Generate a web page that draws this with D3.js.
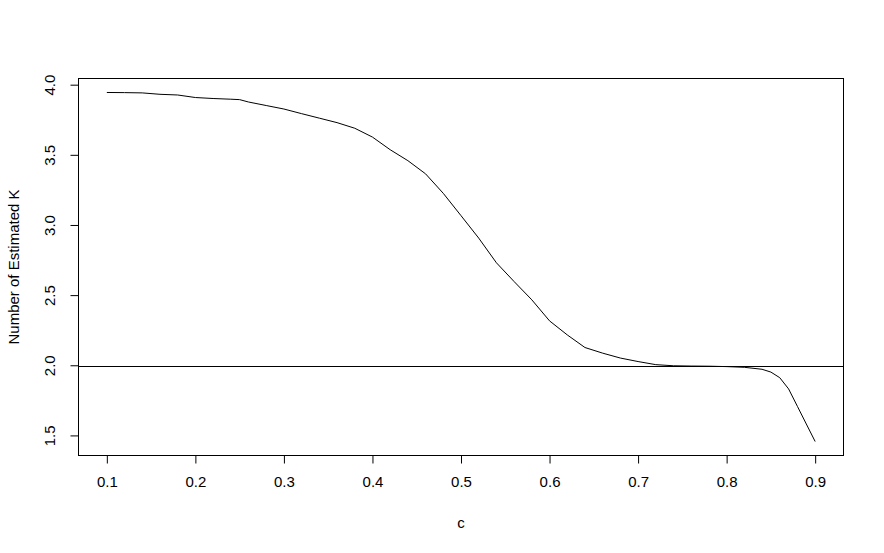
<!DOCTYPE html>
<html><head><meta charset="utf-8">
<script src="https://cdn.jsdelivr.net/npm/d3@7"></script>
<style>body{margin:0;background:#fff}svg{display:block}text{font-family:"Liberation Sans",Arial,sans-serif;fill:#000}</style>
</head><body>
<script>
const cValues = [0.10,0.12,0.14,0.16,0.18,0.20,0.22,0.24,0.25,0.26,0.28,0.30,0.32,0.34,0.36,0.38,0.40,0.42,0.44,0.46,0.48,0.50,0.52,0.54,0.56,0.58,0.60,0.62,0.64,0.66,0.68,0.70,0.72,0.74,0.76,0.78,0.80,0.82,0.84,0.85,0.86,0.87,0.88,0.89,0.90];
const kValues = [3.948,3.947,3.945,3.935,3.930,3.912,3.905,3.900,3.897,3.880,3.855,3.830,3.797,3.765,3.733,3.693,3.630,3.540,3.462,3.368,3.229,3.070,2.910,2.734,2.600,2.470,2.320,2.220,2.130,2.090,2.055,2.030,2.008,2.000,1.998,1.997,1.994,1.989,1.975,1.955,1.915,1.835,1.710,1.585,1.460];
const xTicks = [0.1,0.2,0.3,0.4,0.5,0.6,0.7,0.8,0.9];
const yTicks = [1.5,2.0,2.5,3.0,3.5,4.0];
const refLine = 2.0;

const W=884,H=553;
const L=78.5,R=843.5,T=78.5,B=455.5;
const svg=d3.select("body").append("svg").attr("width",W).attr("height",H);
const x=d3.scaleLinear().domain([0.068,0.932]).range([L,R]);
const y=d3.scaleLinear().domain([1.3604,4.0476]).range([B,T]);

svg.append("rect").attr("x",L).attr("y",T).attr("width",R-L).attr("height",B-T)
  .attr("fill","none").attr("stroke","#000").attr("stroke-width",1);

const fs="15px";
const xa=svg.append("g").attr("transform",`translate(0,${B})`)
  .call(d3.axisBottom(x).tickValues(xTicks).tickFormat(d3.format(".1f")).tickSize(8).tickPadding(13));
xa.select(".domain").attr("d",`M${x(0.1)},0H${x(0.9)}`);
xa.selectAll("text").style("font-size",fs);
const ya=svg.append("g").attr("transform",`translate(${L},0)`)
  .call(d3.axisLeft(y).tickValues(yTicks).tickFormat(d3.format(".1f")).tickSize(8));
ya.select(".domain").attr("d",`M0,${y(1.5)}V${y(4.0)}`);
ya.selectAll("text").style("font-size",fs)
  .attr("transform",d=>`translate(-29,${y(d)}) rotate(-90)`).attr("x",0).attr("y",0).attr("dy","0.35em")
  .attr("text-anchor","middle");
ya.selectAll(".tick").attr("transform",null);
ya.selectAll(".tick line").attr("transform",d=>`translate(0,${y(d)})`);

svg.append("line").attr("x1",L).attr("x2",R).attr("y1",Math.round(y(refLine))+0.5).attr("y2",Math.round(y(refLine))+0.5)
  .attr("stroke","#000").attr("stroke-width",1);

const pts=cValues.map((c,i)=>[c,kValues[i]]);
svg.append("path").datum(pts).attr("fill","none").attr("stroke","#000").attr("stroke-width",1)
  .attr("d",d3.line().x(d=>x(d[0])).y(d=>y(d[1])));

svg.append("text").attr("x",(L+R)/2).attr("y",528).attr("text-anchor","middle").style("font-size",fs).text("c");
svg.append("text").attr("transform",`translate(19,${(T+B)/2}) rotate(-90)`).attr("text-anchor","middle").style("font-size",fs).text("Number of Estimated K");
</script>
</body></html>
